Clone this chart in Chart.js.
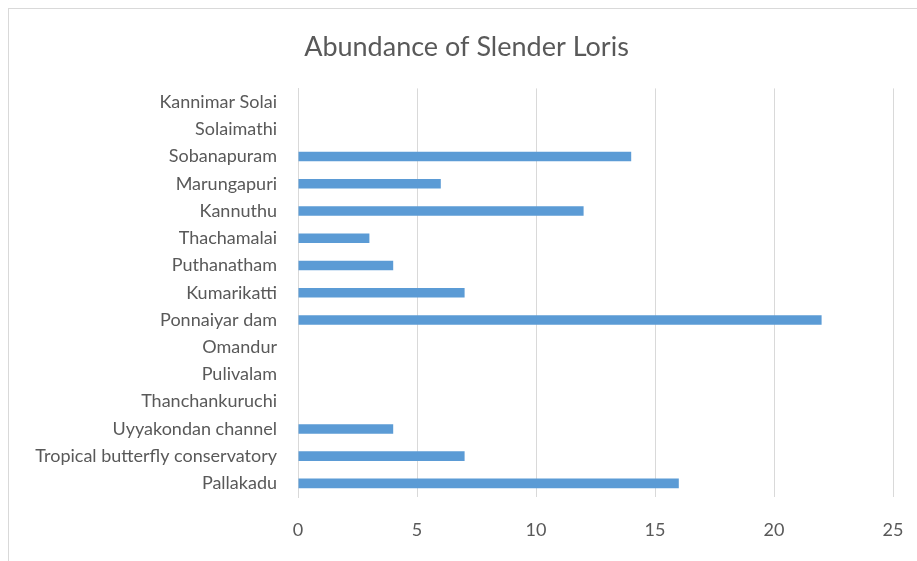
<!DOCTYPE html>
<html>
<head>
<meta charset="utf-8">
<script src="https://cdn.jsdelivr.net/npm/chart.js@4"></script>
<style>
  html, body { margin: 0; padding: 0; background: #fff; overflow: hidden; }
  #wrap { position: relative; width: 917px; height: 561px; }
  #frame { position: absolute; left: 8px; top: 8px; width: 1000px; height: 1000px; border: 1px solid #d9d9d9; }
  #abundanceChart { position: absolute; left: 0; top: 0; }
</style>
</head>
<body>
<div id="wrap">
  <div id="frame"></div>
  <canvas id="abundanceChart" width="917" height="561"></canvas>
</div>
<script>
// sites, listed top to bottom as in the chart
const sites = [
  'Kannimar Solai', 'Solaimathi', 'Sobanapuram', 'Marungapuri', 'Kannuthu',
  'Thachamalai', 'Puthanatham', 'Kumarikatti', 'Ponnaiyar dam', 'Omandur',
  'Pulivalam', 'Thanchankuruchi', 'Uyyakondan channel',
  'Tropical butterfly conservatory', 'Pallakadu'
];
const lorisCounts = [0, 0, 14, 6, 12, 3, 4, 7, 22, 0, 0, 0, 4, 7, 16];
const xTicks = [0, 5, 10, 15, 20, 25];

const labelFont = { family: 'Lato, "Open Sans", sans-serif', size: 18 };

// the original title sits a little right of the canvas centre
const nudgeTitle = {
  id: 'nudgeTitle',
  afterLayout(chart) {
    const t = chart.titleBlock;
    if (t) { t.left += 20; t.right += 20; }
  }
};

function renderChart() {
  const ctx = document.getElementById('abundanceChart').getContext('2d');
  new Chart(ctx, {
    type: 'bar',
    data: {
      labels: sites,
      datasets: [{
        label: 'Abundance',
        data: lorisCounts,
        backgroundColor: '#5b9bd5',
        borderWidth: 0,
        barPercentage: 0.7,
        categoryPercentage: 0.5
      }]
    },
    options: {
      indexAxis: 'y',
      responsive: false,
      animation: false,
      layout: { padding: { left: 0, right: 24, top: 0, bottom: 0 } },
      plugins: {
        legend: { display: false },
        tooltip: { enabled: false },
        title: {
          display: true,
          text: 'Abundance of Slender Loris',
          color: '#595959',
          font: { family: 'Lato, "Open Sans", sans-serif', size: 27, weight: 'normal' },
          padding: { top: 31, bottom: 25 }
        }
      },
      scales: {
        x: {
          min: 0,
          max: 25,
          afterBuildTicks: scale => { scale.ticks = xTicks.map(v => ({ value: v })); },
          afterFit: scale => {
            scale.height = 64;
            scale.paddingLeft = 0;
            scale.paddingRight = 0;
          },
          grid: { color: '#d9d9d9', drawTicks: false },
          border: { display: false },
          ticks: { color: '#595959', font: labelFont, padding: 22 }
        },
        y: {
          afterFit: scale => {
            scale.width = 298;
            scale.paddingTop = 0;
            scale.paddingBottom = 0;
          },
          grid: { display: false, drawTicks: false },
          border: { color: '#d9d9d9' },
          ticks: { color: '#595959', font: labelFont, padding: 21, autoSkip: false }
        }
      }
    },
    plugins: [nudgeTitle]
  });
}

renderChart();
</script>
</body>
</html>
